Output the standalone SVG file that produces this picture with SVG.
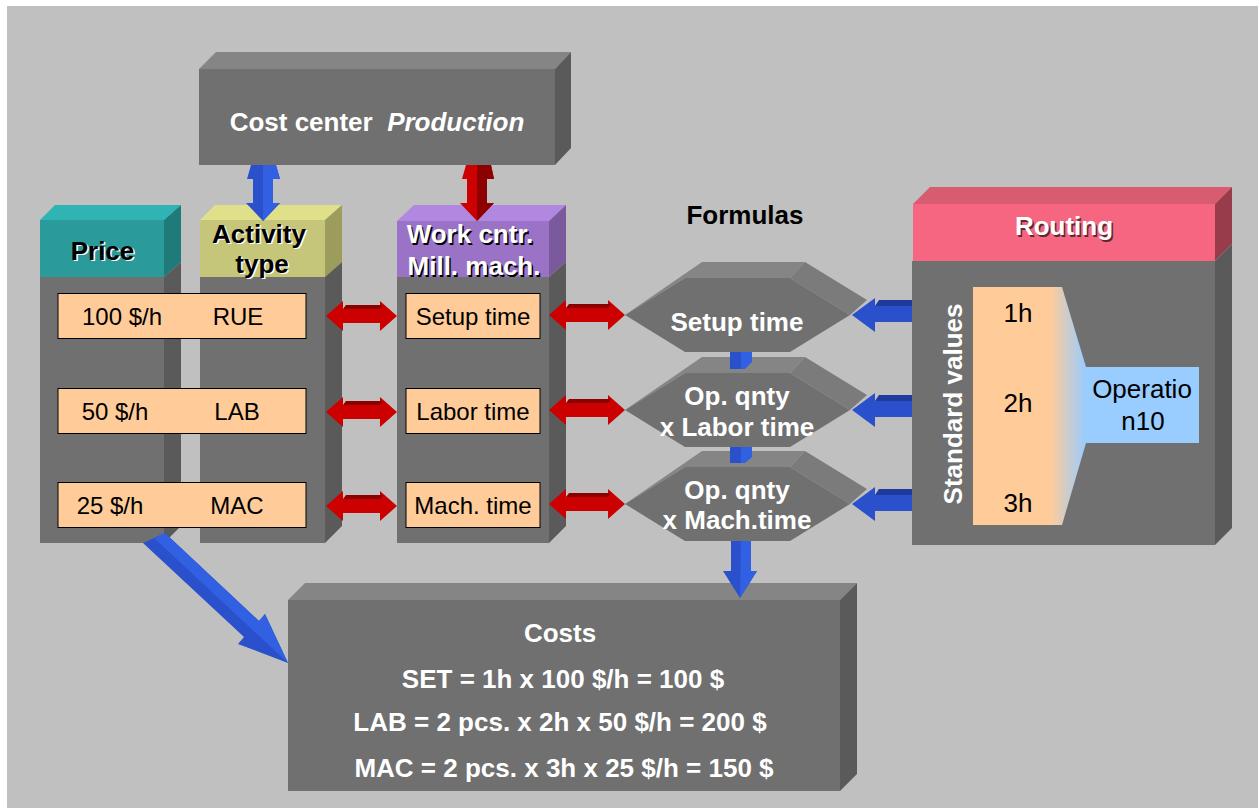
<svg xmlns="http://www.w3.org/2000/svg" width="1258" height="808" viewBox="0 0 1258 808">
<defs>
<style>
.t{font-family:"Liberation Sans",Arial,sans-serif;}
.b{font-weight:bold;font-size:26px;}
.r{font-size:24px;}
.rr{font-size:26px;}
.w{fill:#ffffff;}
.k{fill:#000000;}
.front{fill:#707070;}
.top{fill:#858585;}
.side{fill:#5a5a5a;}
.peach{fill:#ffcc99;stroke:#000;stroke-width:1;}
.red{fill:#cc0000;}
.redd{fill:#8c0000;}
.blue{fill:#2a50cc;}
.blued{fill:#1d3a9c;}
.bluel{fill:#3260e2;}
</style>
<linearGradient id="fade" gradientUnits="userSpaceOnUse" x1="1050" y1="0" x2="1086" y2="0">
<stop offset="0" stop-color="#ffcc99"/>
<stop offset="1" stop-color="#99ccff"/>
</linearGradient>
</defs>
<rect x="0" y="0" width="1258" height="808" fill="#ffffff"/>
<rect x="7" y="6" width="1251" height="802" fill="#c0c0c0"/>

<g id="cost-center">
<polygon class="top" points="199,69 216,52 571,52 555,69"/>
<polygon class="side" points="555,69 571,52 571,148 555,165"/>
<rect class="front" x="199" y="69" width="356" height="96"/>
<text class="t b w" x="377" y="131" text-anchor="middle">Cost center&#160; <tspan font-style="italic">Production</tspan></text>
</g>

<g id="price">
<polygon points="40,220 55,205 181,205 164,220" fill="#30b3b3"/>
<polygon points="164,220 181,205 181,262 164,277" fill="#1f7a7a"/>
<rect x="40" y="220" width="124" height="57" fill="#2a9a9a"/>
<polygon class="side" points="164,277 181,262 181,526 164,543"/>
<rect class="front" x="40" y="277" width="124" height="266"/>
<text class="t b" x="104" y="261" text-anchor="middle" fill="#ffffff">Price</text>
<text class="t b k" x="102.5" y="259.5" text-anchor="middle">Price</text>
</g>

<g id="activity-type">
<polygon points="200,220 215,205 342,205 325,220" fill="#e0e08a"/>
<polygon points="325,220 342,205 342,262 325,277" fill="#9c9c5c"/>
<rect x="200" y="220" width="125" height="57" fill="#c6c67a"/>
<polygon class="side" points="325,277 342,262 342,526 325,543"/>
<rect class="front" x="200" y="277" width="125" height="266"/>
<text class="t b" x="260.5" y="244" text-anchor="middle" fill="#ffffff">Activity</text>
<text class="t b k" x="259" y="242.5" text-anchor="middle">Activity</text>
<text class="t b" x="263.5" y="274" text-anchor="middle" fill="#ffffff">type</text>
<text class="t b k" x="262" y="272.5" text-anchor="middle">type</text>
</g>

<g id="rows-price-activity">
<rect class="peach" x="58" y="293.5" width="248" height="45"/>
<rect class="peach" x="58" y="388.5" width="248" height="45"/>
<rect class="peach" x="58" y="482.5" width="248" height="45"/>
<text class="t r k" x="122" y="325" text-anchor="middle">100 $/h</text>
<text class="t r k" x="238" y="325" text-anchor="middle">RUE</text>
<text class="t r k" x="115" y="420" text-anchor="middle">50 $/h</text>
<text class="t r k" x="237" y="420" text-anchor="middle">LAB</text>
<text class="t r k" x="110" y="514" text-anchor="middle">25 $/h</text>
<text class="t r k" x="237" y="514" text-anchor="middle">MAC</text>
</g>

<g id="work-center">
<polygon points="397,221 414,205 566,205 549,221" fill="#b088e0"/>
<polygon points="549,221 566,205 566,262 549,277" fill="#7a5a9c"/>
<rect x="397" y="221" width="152" height="56" fill="#9a72c6"/>
<polygon class="side" points="549,277 566,262 566,526 549,543"/>
<rect class="front" x="397" y="277" width="152" height="266"/>
<text class="t b" x="471.5" y="244.5" text-anchor="middle" fill="#000000">Work cntr.</text>
<text class="t b w" x="470" y="243" text-anchor="middle">Work cntr.</text>
<text class="t b" x="475.5" y="276.5" text-anchor="middle" fill="#000000">Mill. mach.</text>
<text class="t b w" x="474" y="275" text-anchor="middle">Mill. mach.</text>
<rect class="peach" x="406" y="293.5" width="134" height="45"/>
<rect class="peach" x="406" y="388.5" width="134" height="45"/>
<rect class="peach" x="406" y="482.5" width="134" height="45"/>
<text class="t r k" x="473" y="325" text-anchor="middle">Setup time</text>
<text class="t r k" x="473" y="420" text-anchor="middle">Labor time</text>
<text class="t r k" x="473" y="514" text-anchor="middle">Mach. time</text>
</g>

<g id="formulas-label">
<text class="t b k" x="745" y="224" text-anchor="middle">Formulas</text>
</g>

<g id="formula-setup">
<polygon class="top" points="625,315 702,262 805,262 790,278 685,278"/>
<polygon fill="#7b7b7b" points="805,262 867,300 850,315 790,278"/>
<polygon class="front" points="625,315 685,278 790,278 850,315 790,352 685,352"/>
<text class="t b w" x="737" y="331" text-anchor="middle">Setup time</text>
</g>

<g id="formula-labor">
<polygon class="top" points="625,410 702,357 805,357 790,373 685,373"/>
<polygon fill="#7b7b7b" points="805,357 867,395 850,410 790,373"/>
<polygon class="front" points="625,410 685,373 790,373 850,410 790,447 685,447"/>
<text class="t b w" x="737" y="405" text-anchor="middle">Op. qnty</text>
<text class="t b w" x="737" y="436" text-anchor="middle">x Labor time</text>
</g>

<g id="formula-mach">
<polygon class="top" points="625,504 702,451 805,451 790,467 685,467"/>
<polygon fill="#7b7b7b" points="805,451 867,489 850,504 790,467"/>
<polygon class="front" points="625,504 685,467 790,467 850,504 790,541 685,541"/>
<text class="t b w" x="737" y="499" text-anchor="middle">Op. qnty</text>
<text class="t b w" x="737" y="529" text-anchor="middle">x Mach.time</text>
</g>

<g id="routing">
<polygon points="913,204 930,187 1232,187 1215,204" fill="#d85c70"/>
<polygon points="1215,204 1232,187 1232,244 1215,261" fill="#983c4c"/>
<rect x="913" y="204" width="302" height="57" fill="#f76680"/>
<polygon class="side" points="1215,261 1232,244 1232,528 1215,545"/>
<rect class="front" x="912" y="261" width="303" height="284"/>
<text class="t b" x="1065.5" y="236.5" text-anchor="middle" fill="#5a2a33">Routing</text>
<text class="t b w" x="1064" y="235" text-anchor="middle">Routing</text>
<rect x="1085" y="367" width="114" height="76" fill="#99ccff"/>
<polygon points="973,287 1062,287 1086,367 1086,443 1062,525 973,525" fill="url(#fade)"/>
<text class="t rr k" x="1018" y="322" text-anchor="middle">1h</text>
<text class="t rr k" x="1018" y="412" text-anchor="middle">2h</text>
<text class="t rr k" x="1018" y="512" text-anchor="middle">3h</text>
<text class="t rr k" x="1142" y="398" text-anchor="middle">Operatio</text>
<text class="t rr k" x="1143" y="430" text-anchor="middle">n10</text>
<text class="t b w" transform="translate(962,404) rotate(-90)" text-anchor="middle">Standard values</text>
</g>

<g id="costs">
<polygon class="top" points="288,600 305,583 857,583 840,600"/>
<polygon class="side" points="840,600 857,583 857,774 840,791"/>
<rect class="front" x="288" y="600" width="552" height="191"/>
<text class="t b w" x="560" y="642" text-anchor="middle">Costs</text>
<text class="t b w" x="563" y="688" text-anchor="middle">SET = 1h x 100 $/h = 100 $</text>
<text class="t b w" x="560" y="731" text-anchor="middle">LAB = 2 pcs. x 2h x 50 $/h = 200 $</text>
<text class="t b w" x="564" y="777" text-anchor="middle">MAC = 2 pcs. x 3h x 25 $/h = 150 $</text>
</g>

<g id="connectors">
<polygon class="blue" points="251,165 276,165 280,179 273,179 273,203 280,203 263,221 246,203 253,203 253,179 247,179"/>
<polygon class="bluel" points="263,165 276,165 280,179 273,179 273,203 280,203 263,221"/>
<polygon class="red" points="466,165 491,165 494,179 487,179 487,203 494,203 477,221 460,203 467,203 467,179 462,179"/>
<polygon class="redd" points="477,165 491,165 494,179 487,179 487,203 494,203 477,221"/>

<polygon class="red" points="326,316 343,301 343,309 380,309 380,301 397,316 380,331 380,323 343,323 343,331"/>
<polygon class="redd" points="343,309 380,309 383,305 346,305"/>
<polygon class="red" points="326,412 343,397 343,405 380,405 380,397 397,412 380,427 380,419 343,419 343,427"/>
<polygon class="redd" points="343,405 380,405 383,401 346,401"/>
<polygon class="red" points="326,506 343,491 343,499 380,499 380,491 397,506 380,521 380,513 343,513 343,521"/>
<polygon class="redd" points="343,499 380,499 383,495 346,495"/>

<polygon class="red" points="549,315 566,300 566,308 608,308 608,300 625,315 608,330 608,322 566,322 566,330"/>
<polygon class="redd" points="566,308 608,308 611,304 569,304"/>
<polygon class="red" points="549,410 566,395 566,403 608,403 608,395 625,410 608,425 608,417 566,417 566,425"/>
<polygon class="redd" points="566,403 608,403 611,399 569,399"/>
<polygon class="red" points="549,504 566,489 566,497 608,497 608,489 625,504 608,519 608,511 566,511 566,519"/>
<polygon class="redd" points="566,497 608,497 611,493 569,493"/>

<polygon class="blue" points="852,315 875,298 875,306 912,306 912,322 875,322 875,332"/>
<polygon class="blued" points="875,306 912,306 912,300 879,300"/>
<polygon class="blue" points="852,410 875,393 875,401 912,401 912,417 875,417 875,427"/>
<polygon class="blued" points="875,401 912,401 912,395 879,395"/>
<polygon class="blue" points="852,504 875,487 875,495 912,495 912,511 875,511 875,521"/>
<polygon class="blued" points="875,495 912,495 912,489 879,489"/>

<polygon class="blue" points="730,352 741,352 741,369 730,369"/>
<polygon class="bluel" points="741,352 752,352 752,362 745,369 741,369"/>
<polygon class="blue" points="730,447 741,447 741,463 730,463"/>
<polygon class="bluel" points="741,447 752,447 752,457 745,463 741,463"/>

<polygon class="blue" points="731,541 751,541 751,571 757,571 740,598 723,571 731,571"/>
<polygon class="bluel" points="741,541 751,541 751,571 757,571 740,598"/>

<polygon class="blue" points="143,543 165,533 259,621 265,614 288,663 238,644 244,637"/>
<polygon class="bluel" points="154,538 165,533 259,621 265,614 288,663 251.5,629"/>
</g>
</svg>
